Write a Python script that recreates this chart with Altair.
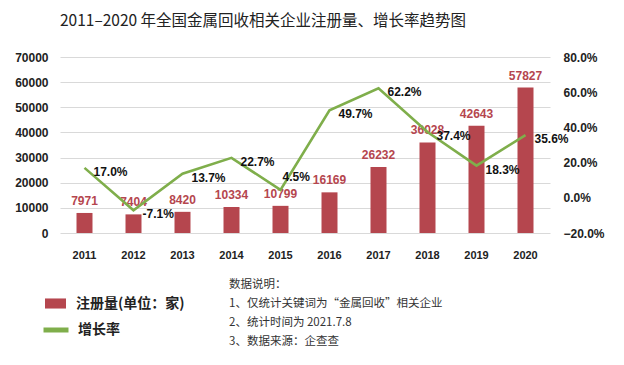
import altair as alt
import pandas as pd

years = ["2011", "2012", "2013", "2014", "2015", "2016", "2017", "2018", "2019", "2020"]
registrations = [7971, 7404, 8420, 10334, 10799, 16169, 26232, 36028, 42643, 57827]
growth = [0.170, -0.071, 0.137, 0.227, 0.045, 0.497, 0.622, 0.374, 0.183, 0.356]
growth_labels = ["17.0%", "-7.1%", "13.7%", "22.7%", "4.5%", "49.7%", "62.2%", "37.4%", "18.3%", "35.6%"]
bar_series = "注册量(单位：家)"
line_series = "增长率"
title_text = "2011–2020 年全国金属回收相关企业注册量、增长率趋势图"
notes = ["数据说明：", "1、仅统计关键词为“金属回收”相关企业", "2、统计时间为 2021.7.8", "3、数据来源：企查查"]

df = pd.DataFrame({
    "year": years,
    "reg": registrations,
    "growth": growth,
    "glabel": growth_labels,
    "bs": bar_series,
    "ls": line_series,
})

BAR = "#b5464e"
GREEN = "#7fae4b"
FONT = "Liberation Sans"
CJK = "Noto Sans CJK SC"

x = alt.X("year:N", sort=years, title=None,
          axis=alt.Axis(labelAngle=0, domain=False, ticks=False, labelPadding=16,
                        labelFont=FONT, labelFontSize=11, labelFontWeight="bold",
                        labelColor="#222"))

yl = alt.Y("reg:Q", title=None,
           scale=alt.Scale(domain=[0, 70000], nice=False),
           axis=alt.Axis(values=list(range(0, 70001, 10000)), format="d", domain=False, ticks=False,
                         labelPadding=12, labelFont=FONT, labelFontSize=12,
                         labelFontWeight="bold", labelColor="#222",
                         grid=True, gridColor="#d9d9d9", gridWidth=1.2))

yr = alt.Y("growth:Q", title=None, scale=alt.Scale(domain=[-0.2, 0.8], nice=False),
           axis=alt.Axis(orient="right", values=[-0.2, 0, 0.2, 0.4, 0.6, 0.8], format=".1%",
                         domain=False, ticks=False, grid=False, labelPadding=13,
                         labelFont=FONT, labelFontSize=12, labelFontWeight="bold",
                         labelColor="#222"))

base = alt.Chart(df)

bars = base.mark_bar(size=16, color=BAR).encode(
    x=x, y=yl,
    fill=alt.Fill("bs:N", scale=alt.Scale(domain=[bar_series], range=[BAR]),
                  legend=alt.Legend(title=None, orient="none", legendX=-15, legendY=236,
                                    symbolType="M-1,-0.48H1V0.48H-1Z", symbolSize=441,
                                    symbolStrokeWidth=0, labelFont=CJK, labelFontSize=14,
                                    labelFontWeight="bold", labelColor="#222", labelOffset=10)),
)

bar_text = base.mark_text(baseline="bottom", dy=-5, font=FONT, fontSize=12,
                          fontWeight="bold", color=BAR).encode(
    x=x, y=yl, text=alt.Text("reg:Q", format="d"))

line = base.mark_line(strokeWidth=2.6).encode(
    x=x, y=yr,
    stroke=alt.Stroke("ls:N", scale=alt.Scale(domain=[line_series], range=[GREEN]),
                      legend=alt.Legend(title=None, orient="none", legendX=-19, legendY=258,
                                        symbolType="stroke", symbolSize=625,
                                        symbolStrokeWidth=5, labelFont=CJK, labelFontSize=14,
                                        labelFontWeight="bold", labelColor="#222", labelOffset=7)),
)

line_text = base.transform_filter(alt.datum.year != "2015").mark_text(
    align="left", baseline="middle", dx=9, dy=4, font=FONT, fontSize=12,
    fontWeight="bold", color="#111").encode(x=x, y=yr, text="glabel:N")

line_text_2015 = base.transform_filter(alt.datum.year == "2015").mark_text(
    align="left", baseline="middle", dx=2, dy=-13, font=FONT, fontSize=12,
    fontWeight="bold", color="#111").encode(x=x, y=yr, text="glabel:N")

notes_df = pd.DataFrame({"t": ["\n".join(notes)]})
notes_text = alt.Chart(notes_df).mark_text(
    align="left", baseline="top", lineBreak="\n", lineHeight=19, font=CJK,
    fontSize=11.5, color="#333").encode(
    x=alt.value(169), y=alt.value(222), text="t:N")

left = alt.layer(bars, bar_text)
right = alt.layer(line, line_text, line_text_2015)

chart = alt.layer(left, right, notes_text).resolve_scale(y="independent").properties(
    width=490, height=176,
    autosize=alt.AutoSizeParams(type="none"),
    padding={"left": 52, "top": 49, "right": 66, "bottom": 120},
    title=alt.Title(title_text, anchor="start", frame="group", dx=0, offset=22,
                    font=CJK, fontSize=15.5, fontWeight="normal", color="#222"),
).configure_view(stroke=None)

chart.save("out.html", embed_options={"renderer": "svg", "actions": False})
